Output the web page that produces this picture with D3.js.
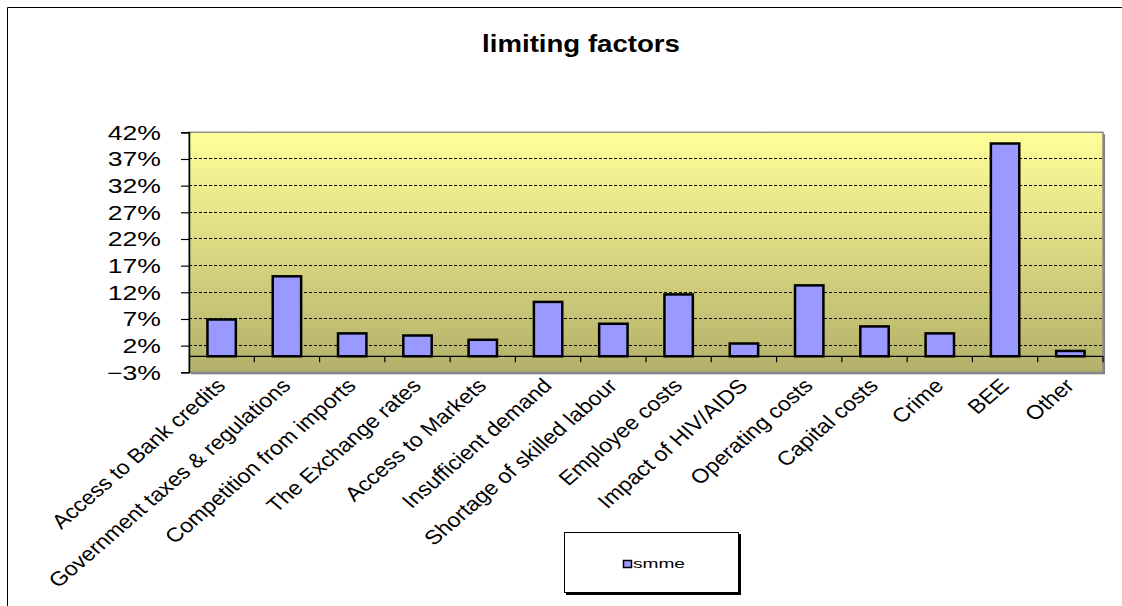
<!DOCTYPE html>
<html>
<head>
<meta charset="utf-8">
<script src="https://cdn.jsdelivr.net/npm/d3@7"></script>
<style>
  html, body { margin: 0; padding: 0; background: #ffffff; overflow: hidden; }
  svg { display: block; font-family: "Liberation Sans", Arial, sans-serif; }
</style>
</head>
<body>
<svg id="chart" width="1122" height="606"></svg>
<script>
const categories = [
  "Access to Bank credits",
  "Government taxes & regulations",
  "Competition from imports",
  "The Exchange rates",
  "Access to Markets",
  "Insufficient demand",
  "Shortage of skilled labour",
  "Employee costs",
  "Impact of HIV/AIDS",
  "Operating costs",
  "Capital costs",
  "Crime",
  "BEE",
  "Other"
];
const smme = [6.9, 15.0, 4.3, 3.9, 3.1, 10.2, 6.1, 11.6, 2.4, 13.3, 5.6, 4.3, 39.9, 1.0];
const yTicks = [-3, 2, 7, 12, 17, 22, 27, 32, 37, 42];
const seriesName = "smme";
const title = "limiting factors";

const svg = d3.select("#chart");

// outer chart frame (only top and left edges fall inside the picture)
svg.append("line").attr("x1", 7.5).attr("x2", 1122).attr("y1", 7.5).attr("y2", 7.5)
  .attr("stroke", "#000").attr("stroke-width", 1);
svg.append("line").attr("x1", 7.5).attr("x2", 7.5).attr("y1", 7.5).attr("y2", 606)
  .attr("stroke", "#000").attr("stroke-width", 1);

const plot = { left: 189, right: 1103, top: 132.3, bottom: 372.3 };

const x = d3.scaleBand().domain(categories).range([plot.left, plot.right]).padding(0);
const y = d3.scaleLinear().domain([-3, 42]).range([plot.bottom, plot.top]);

// gradient
const defs = svg.append("defs");
const grad = defs.append("linearGradient").attr("id", "bg")
  .attr("x1", 0).attr("y1", 0).attr("x2", 0).attr("y2", 1);
grad.append("stop").attr("offset", "0%").attr("stop-color", "#FFFF99");
grad.append("stop").attr("offset", "100%").attr("stop-color", "#B3B06A");

// plot shadow
svg.append("rect")
  .attr("x", plot.left + 2).attr("y", plot.top + 2)
  .attr("width", plot.right - plot.left).attr("height", plot.bottom - plot.top)
  .attr("fill", "#808080");
svg.append("rect")
  .attr("x", plot.left).attr("y", plot.top)
  .attr("width", plot.right - plot.left).attr("height", plot.bottom - plot.top)
  .attr("fill", "url(#bg)").attr("stroke", "#8c8c8c").attr("stroke-width", 1.5);

// gridlines
svg.append("g").selectAll("line")
  .data(yTicks.filter(t => t > -3 && t < 42))
  .join("line")
  .attr("x1", plot.left).attr("x2", plot.right)
  .attr("y1", d => y(d)).attr("y2", d => y(d))
  .attr("stroke", "#000000").attr("stroke-width", 1)
  .attr("stroke-dasharray", "3,2")
  .attr("shape-rendering", "crispEdges");

// bars
const bw = x.bandwidth() / 2.3;
svg.append("g").selectAll("rect")
  .data(categories.map((c, i) => ({ c, v: smme[i] })))
  .join("rect")
  .attr("x", d => x(d.c) + x.bandwidth() / 2 - bw / 2)
  .attr("width", bw)
  .attr("y", d => y(d.v))
  .attr("height", d => y(0) - y(d.v))
  .attr("fill", "#9999FF")
  .attr("stroke", "#000000")
  .attr("stroke-width", 2.5);

// category axis at zero
const xAxis = svg.append("g").attr("transform", `translate(0,${y(0)})`);
xAxis.append("line")
  .attr("x1", plot.left).attr("x2", plot.right)
  .attr("y1", 0).attr("y2", 0)
  .attr("stroke", "#000").attr("stroke-width", 1.2);
xAxis.selectAll("line.tick")
  .data(categories.slice(1).map(c => x(c)).concat([plot.right]))
  .join("line").attr("class", "tick")
  .attr("x1", d => d).attr("x2", d => d)
  .attr("y1", 0).attr("y2", 6)
  .attr("stroke", "#000").attr("stroke-width", 1.2);

// y axis
const yAxis = d3.axisLeft(y).tickValues(yTicks).tickSize(8).tickFormat(d => d + "%");
const yg = svg.append("g").attr("transform", `translate(${plot.left},0)`).call(yAxis);
yg.select(".domain").attr("stroke", "#000").attr("stroke-width", 1.5);
yg.selectAll(".tick line").attr("stroke", "#000").attr("stroke-width", 1.2);
yg.selectAll(".tick text").remove();
yg.selectAll(".tick").append("text")
  .attr("transform", "translate(-28,7) scale(1.33,1)")
  .attr("text-anchor", "end")
  .attr("fill", "#000")
  .style("font-size", "20px")
  .style("font-family", "'Liberation Sans', Arial, sans-serif")
  .text(d => (d < 0 ? "\u2212" + Math.abs(d) : d) + "%");

// x labels
svg.append("g").selectAll("text")
  .data(categories)
  .join("text")
  .attr("transform", d => `translate(${x(d) + x.bandwidth() / 2 + 5},387) scale(1.157,1) rotate(-45)`)
  .attr("text-anchor", "end")
  .style("font-size", "20px")
  .attr("fill", "#000")
  .text(d => d);

// title
svg.append("text")
  .attr("transform", "translate(581,52) scale(1.15,1)")
  .attr("text-anchor", "middle")
  .style("font-size", "24px")
  .style("font-weight", "bold")
  .attr("fill", "#000")
  .text(title);

// legend
const lg = svg.append("g");
lg.append("rect").attr("x", 566).attr("y", 534).attr("width", 175).attr("height", 61).attr("fill", "#000");
lg.append("rect").attr("x", 564.5).attr("y", 532.5).attr("width", 174).attr("height", 60)
  .attr("fill", "#fff").attr("stroke", "#000").attr("stroke-width", 1);
lg.append("rect").attr("x", 623.5).attr("y", 560.5).attr("width", 8).attr("height", 7)
  .attr("fill", "#9999FF").attr("stroke", "#000").attr("stroke-width", 1.5);
lg.append("text").attr("x", 633).attr("y", 568)
  .attr("textLength", 52).attr("lengthAdjust", "spacingAndGlyphs")
  .style("font-size", "13px").attr("fill", "#000").text(seriesName);
</script>
</body>
</html>
